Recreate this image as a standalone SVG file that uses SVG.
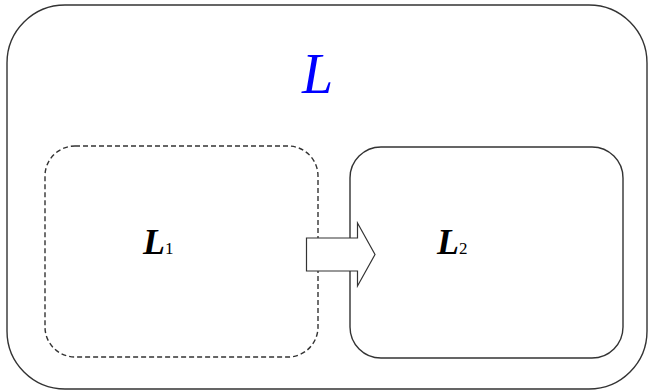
<svg xmlns="http://www.w3.org/2000/svg" width="649" height="392" viewBox="0 0 649 392">
<style>
.box{fill:none;stroke:#333;stroke-width:1.4}
.dash{fill:none;stroke:#333;stroke-width:1.4;stroke-dasharray:5 3}
.lbl{font-family:"Liberation Serif","Times New Roman",serif;font-style:italic;font-weight:bold;font-size:36px;fill:#000}
.sub{font-size:17px;font-style:normal;font-weight:normal}
</style>
<rect width="649" height="392" fill="#fff"/>
<g id="L">
<rect class="box" x="7" y="5" width="640" height="384" rx="58" ry="58"/>
<text x="302" y="93" font-family="Liberation Serif, 'Times New Roman', serif" font-style="italic" font-size="56" fill="#0000ff">L</text>
</g>
<g id="L1">
<rect class="dash" x="45" y="146" width="273" height="211" rx="30" ry="30"/>
<text class="lbl" x="143" y="254">L<tspan class="sub">1</tspan></text>
</g>
<g id="L2">
<rect class="box" x="350" y="147" width="273" height="211" rx="31" ry="31"/>
<text class="lbl" x="437" y="254">L<tspan class="sub">2</tspan></text>
</g>
<g id="connectors">
<polygon points="306.5,238 357.5,238 357.5,223 375,254.5 357.5,286 357.5,271 306.5,271" fill="#fff" stroke="#333" stroke-width="1.2"/>
</g>
</svg>
